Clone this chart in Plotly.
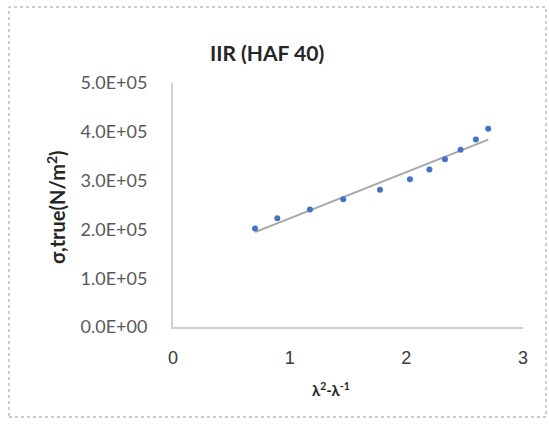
import numpy as np
import plotly.graph_objects as go

# Data
x_vals = [0.703, 0.894, 1.174, 1.459, 1.774, 2.031, 2.198, 2.331, 2.465, 2.596, 2.702]
y_vals = [2.02e5, 2.23e5, 2.41e5, 2.62e5, 2.81e5, 3.03e5, 3.23e5, 3.44e5, 3.63e5, 3.84e5, 4.06e5]
y_tickvals = [0, 1e5, 2e5, 3e5, 4e5, 5e5]
y_ticktext = ["0.0E+00", "1.0E+05", "2.0E+05", "3.0E+05", "4.0E+05", "5.0E+05"]
x_tickvals = [0, 1, 2, 3]
x_ticktext = ["0", "1", "2", "3"]

# Linear trendline
slope, intercept = np.polyfit(x_vals, y_vals, 1)
trend_x = [min(x_vals), max(x_vals)]
trend_y = [slope * v + intercept for v in trend_x]

fig = go.Figure()
fig.add_trace(go.Scatter(x=trend_x, y=trend_y, mode="lines",
                         line=dict(color="#a6a6a6", width=2), showlegend=False))
fig.add_trace(go.Scatter(x=x_vals, y=y_vals, mode="markers",
                         marker=dict(color="#4472C4", size=6), showlegend=False))

W, H = 549, 428
L, R, T, B = 173, 26, 83, 101
pw, ph = W - L - R, H - T - B

def px_x(p):
    return (p - L) / pw

def px_y(p):
    return (H - B - p) / ph

fig.update_layout(
    width=W, height=H,
    margin=dict(l=L, r=R, t=T, b=B),
    paper_bgcolor="white", plot_bgcolor="white",
    font=dict(family="Lato, Arial, sans-serif"),
    xaxis=dict(range=[0, 3], tickvals=x_tickvals, ticktext=x_ticktext,
               showgrid=False, zeroline=False, showline=True,
               linecolor="#d0d0d0", linewidth=2, ticks="",
               tickfont=dict(family="Arial", size=18, color="#3a3a3a"),
               ticklabelstandoff=13),
    yaxis=dict(range=[0, 5e5], tickvals=y_tickvals, ticktext=y_ticktext,
               showgrid=False, zeroline=False, showline=True,
               linecolor="#d0d0d0", linewidth=2, ticks="",
               tickfont=dict(family="Lato, Arial", size=18, color="#595959"),
               ticklabelstandoff=20),
    annotations=[
        dict(text="<b>IIR (HAF 40)</b>", x=px_x(267), y=px_y(52), xref="paper", yref="paper",
             xanchor="center", yanchor="middle",
             showarrow=False, font=dict(family="Lato, Arial", size=21, color="#262626")),
        dict(text="<b>λ<sup>2</sup>-λ<sup>-1</sup></b>", x=px_x(331), y=px_y(389), xref="paper", yref="paper",
             xanchor="center", yanchor="middle",
             showarrow=False, font=dict(family="Lato, Arial", size=15, color="#262626")),
        dict(text="<b>σ,true(N/m<sup>2</sup>)</b>", x=px_x(56), y=px_y(207), xref="paper", yref="paper",
             xanchor="center", yanchor="middle",
             showarrow=False, textangle=-90, font=dict(family="Lato, Arial", size=20, color="#262626")),
    ],
    shapes=[
        dict(type="rect", xref="paper", yref="paper",
             x0=px_x(9), x1=px_x(546), y0=px_y(417), y1=px_y(7),
             line=dict(color="#9a9a9a", width=1, dash="dot"))
    ],
)

fig.write_html("out.html")
